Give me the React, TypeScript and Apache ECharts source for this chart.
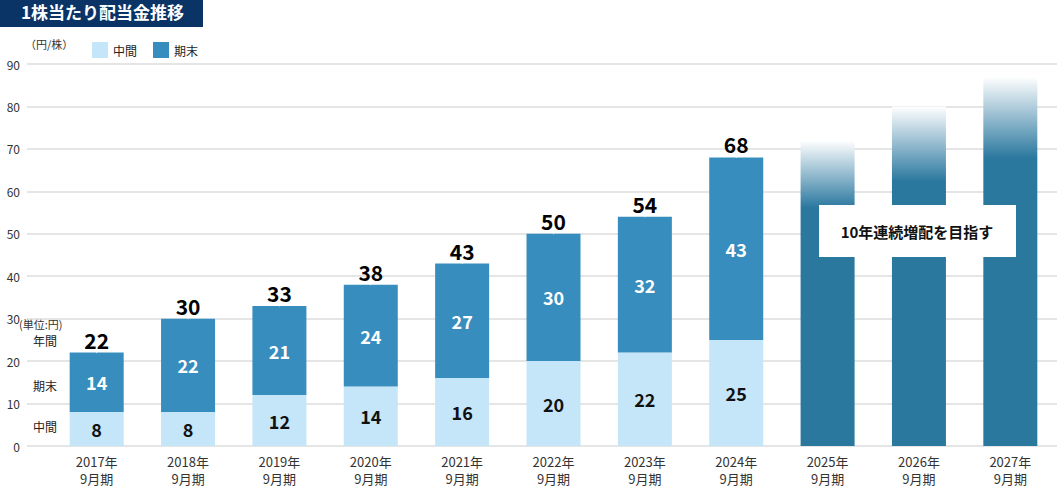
import React, { useEffect, useRef } from "react";
import * as echarts from "echarts";

const categories = ["2017年\n9月期", "2018年\n9月期", "2019年\n9月期", "2020年\n9月期", "2021年\n9月期", "2022年\n9月期", "2023年\n9月期", "2024年\n9月期", "2025年\n9月期", "2026年\n9月期", "2027年\n9月期"];
const interim = [8, 8, 12, 14, 16, 20, 22, 25, null, null, null];
const yearEnd = [14, 22, 21, 24, 27, 30, 32, 43, null, null, null];
const totals = [22, 30, 33, 38, 43, 50, 54, 68, null, null, null];
const future = [null, null, null, null, null, null, null, null, 72, 80, 87];
const yTicks = [0, 10, 20, 30, 40, 50, 60, 70, 80, 90];

const FONT = "'Noto Sans CJK JP', 'Noto Sans', sans-serif";
const LIGHT = "#c5e5f9";
const DARK = "#378dbd";
const FUT = "#2b789f";

export default function App() {
  const ref = useRef<HTMLDivElement>(null);
  useEffect(() => {
    if (!ref.current) return;
    const chart = echarts.init(ref.current, null, { renderer: "svg" });
    const grad = {
      type: "linear", x: 0, y: 0, x2: 0, y2: 1,
      colorStops: [
        { offset: 0, color: "rgba(255,255,255,1)" },
        { offset: 0.22, color: FUT },
        { offset: 1, color: FUT },
      ],
    };
    chart.setOption({
      animation: false,
      textStyle: { fontFamily: FONT },
      legend: {
        data: [
          { name: "中間", itemStyle: { color: LIGHT } },
          { name: "期末", itemStyle: { color: DARK } },
        ],
        left: 87, top: 37, icon: "rect", itemWidth: 16, itemHeight: 16, itemGap: 16,
        textStyle: { fontFamily: FONT, fontSize: 12, color: "#222" },
        selectedMode: false,
      },
      grid: [
        { left: 27, right: 0, top: 64, bottom: 43 },
        { left: 51, right: 1, top: 64, bottom: 43 },
      ],
      xAxis: [
        { type: "category", gridIndex: 0, data: ["x"], show: false },
        {
          type: "category", gridIndex: 1, data: categories,
          axisLine: { show: false }, axisTick: { show: false },
          axisLabel: { fontFamily: FONT, fontSize: 13, color: "#333", lineHeight: 17, margin: 7 },
        },
      ],
      yAxis: [
        {
          type: "value", gridIndex: 0, min: yTicks[0], max: yTicks[yTicks.length - 1], interval: 10,
          axisLine: { show: false }, axisTick: { show: false },
          axisLabel: { fontFamily: FONT, fontSize: 12, color: "#333", margin: 7 },
          splitLine: { lineStyle: { color: "#dcdcdc", width: 1.5 } },
        },
        {
          type: "value", gridIndex: 1, min: 0, max: 90, interval: 10, show: false,
          splitLine: { show: false },
        },
      ],
      series: [
        {
          name: "中間", type: "bar", xAxisIndex: 1, yAxisIndex: 1, stack: "a", barWidth: 54,
          data: interim, itemStyle: { color: LIGHT },
          label: { show: true, position: "inside", fontFamily: FONT, fontSize: 18, fontWeight: "bold", color: "#111" },
        },
        {
          name: "期末", type: "bar", xAxisIndex: 1, yAxisIndex: 1, stack: "a", barWidth: 54,
          data: yearEnd, itemStyle: { color: DARK },
          label: { show: true, position: "inside", fontFamily: FONT, fontSize: 18, fontWeight: "bold", color: "#fff" },
        },
        {
          name: "目標", type: "bar", xAxisIndex: 1, yAxisIndex: 1, stack: "a", barWidth: 54,
          data: future, itemStyle: { color: grad },
        },
        {
          name: "年間", type: "scatter", xAxisIndex: 1, yAxisIndex: 1, data: totals,
          symbolSize: 1, itemStyle: { color: "#fff", opacity: 1 },
          label: { show: true, position: "top", distance: 2, fontFamily: FONT, fontSize: 21, fontWeight: "bold", color: "#000", opacity: 1 },
          emphasis: { disabled: true },
          z: 5,
        },
      ],
      graphic: [
        { type: "rect", left: 0, top: 0, shape: { width: 203, height: 27 }, style: { fill: "#0b3466" } },
        { type: "text", left: 21, top: 3, style: { text: "1株当たり配当金推移", fill: "#fff", font: `bold 17px ${FONT}` } },
        { type: "text", left: 25, top: 38, style: { text: "（円/株）", fill: "#333", font: `11px ${FONT}` } },
        { type: "text", left: 19, top: 318, style: { text: "(単位:円)", fill: "#333", font: `11px ${FONT}` } },
        { type: "text", left: 33, top: 334, style: { text: "年間", fill: "#222", font: `12px ${FONT}` } },
        { type: "text", left: 33, top: 379, style: { text: "期末", fill: "#222", font: `12px ${FONT}` } },
        { type: "text", left: 33, top: 420, style: { text: "中間", fill: "#222", font: `12px ${FONT}` } },
        { type: "rect", left: 819, top: 205, shape: { width: 197, height: 52 }, style: { fill: "#fff" }, z: 10 },
        {
          type: "text", x: 917, y: 231, z: 11,
          style: { text: "10年連続増配を目指す", fill: "#111", font: `bold 15px ${FONT}`, align: "center", verticalAlign: "middle" },
        },
      ],
    });
    return () => chart.dispose();
  }, []);
  return <div ref={ref} style={{ width: 1057, height: 489, position: "absolute", left: 0, top: 0 }} />;
}
